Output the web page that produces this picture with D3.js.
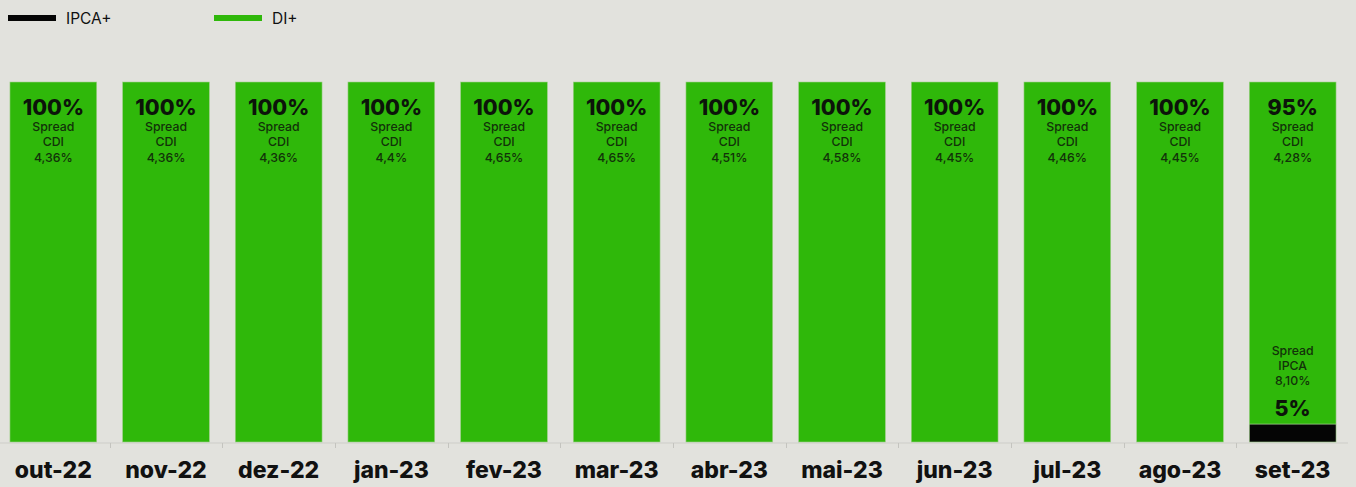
<!DOCTYPE html>
<html>
<head>
<meta charset="utf-8">
<script src="https://cdn.jsdelivr.net/npm/d3@7"></script>
<style>
  body { margin: 0; background: #e2e2dd; }
  svg { display: block; font-family: Inter, "Noto Sans", sans-serif; }
</style>
</head>
<body>
<div id="chart"></div>
<script>
const months = ['out-22', 'nov-22', 'dez-22', 'jan-23', 'fev-23', 'mar-23', 'abr-23', 'mai-23', 'jun-23', 'jul-23', 'ago-23', 'set-23'];
const ipcaShare = [0, 0, 0, 0, 0, 0, 0, 0, 0, 0, 0, 5];
const diShare = [100, 100, 100, 100, 100, 100, 100, 100, 100, 100, 100, 95];
const spreadCdi = ['4,36%', '4,36%', '4,36%', '4,4%', '4,65%', '4,65%', '4,51%', '4,58%', '4,45%', '4,46%', '4,45%', '4,28%'];
const spreadIpca = ['', '', '', '', '', '', '', '', '', '', '', '8,10%'];

const width = 1356, height = 487;
const green = '#2fb80a', black = '#050505';

const svg = d3.select('#chart').append('svg').attr('width', width).attr('height', height);

const x = d3.scaleBand().domain(months).range([-3, 1349]).paddingInner(0.23).paddingOuter(0.115);
const y = d3.scaleLinear().domain([0, 100]).range([442, 82]);

const rows = months.map((m, i) => ({ month: m, ipca: ipcaShare[i], di: diShare[i], cdi: spreadCdi[i], ipcaSpread: spreadIpca[i] }));
const stacked = d3.stack().keys(['ipca', 'di'])(rows);
const colors = { ipca: black, di: green };

// axis line with ticks between categories
svg.append('line')
  .attr('x1', 0).attr('x2', width - 8)
  .attr('y1', 443).attr('y2', 443)
  .attr('stroke', '#cdcdc8').attr('stroke-width', 1);
svg.append('g').selectAll('line')
  .data(months.slice(1))
  .join('line')
  .attr('x1', (d) => Math.round(x(d) - x.step() * x.paddingInner() / 2) + 0.5)
  .attr('x2', (d) => Math.round(x(d) - x.step() * x.paddingInner() / 2) + 0.5)
  .attr('y1', 443).attr('y2', 448)
  .attr('stroke', '#c4c4bf');

// bars
svg.append('g').selectAll('g')
  .data(stacked)
  .join('g')
  .attr('fill', (s) => colors[s.key])
  .selectAll('rect')
  .data((s) => s.filter((d) => d[1] > d[0]))
  .join('rect')
  .attr('x', (d) => x(d.data.month))
  .attr('y', (d) => y(d[1]))
  .attr('width', x.bandwidth())
  .attr('height', (d) => y(d[0]) - y(d[1]))
  .attr('stroke', '#9fcf8a')
  .attr('stroke-width', 0.6);

// DI+ labels near the top
const labelG = svg.append('g').attr('text-anchor', 'middle').attr('fill', '#0c140a');
const small = (sel) => sel.attr('font-size', 12.3).attr('font-weight', 500).attr('fill', '#123209');
rows.forEach((d) => {
  const cx = x(d.month) + x.bandwidth() / 2;
  const yt = y(d.ipca + d.di);
  labelG.append('text').attr('x', cx).attr('y', yt + 33)
    .attr('font-size', 21.5).attr('font-weight', 800).text(`${d.di}%`);
  labelG.append('text').attr('x', cx).attr('y', yt + 49).call(small).text('Spread');
  labelG.append('text').attr('x', cx).attr('y', yt + 64).call(small).text('CDI');
  labelG.append('text').attr('x', cx).attr('y', yt + 80).call(small).text(d.cdi);
});

// IPCA+ labels above the black segment
rows.filter((d) => d.ipca > 0).forEach((d) => {
  const cx = x(d.month) + x.bandwidth() / 2;
  const yb = y(d.ipca);
  labelG.append('text').attr('x', cx).attr('y', yb - 8)
    .attr('font-size', 21.5).attr('font-weight', 800).text(`${d.ipca}%`);
  labelG.append('text').attr('x', cx).attr('y', yb - 69).call(small).text('Spread');
  labelG.append('text').attr('x', cx).attr('y', yb - 54).call(small).text('IPCA');
  labelG.append('text').attr('x', cx).attr('y', yb - 39).call(small).text(d.ipcaSpread);
});

// category labels
svg.append('g').attr('text-anchor', 'middle')
  .selectAll('text')
  .data(months)
  .join('text')
  .attr('x', (d) => x(d) + x.bandwidth() / 2)
  .attr('y', 478)
  .attr('font-size', 23)
  .attr('font-weight', 800)
  .attr('fill', '#111')
  .text((d) => d);

// legend
const legend = [
  { name: 'IPCA+', color: black, x: 8 },
  { name: 'DI+', color: green, x: 214 },
];
const lg = svg.append('g').selectAll('g').data(legend).join('g')
  .attr('transform', (d) => `translate(${d.x},18)`);
lg.append('rect').attr('x', 0).attr('y', -3).attr('width', 48).attr('height', 6).attr('fill', (d) => d.color);
lg.append('text').attr('x', 58).attr('y', 5.5).attr('font-size', 15.5).attr('fill', '#111').text((d) => d.name);
</script>
</body>
</html>
